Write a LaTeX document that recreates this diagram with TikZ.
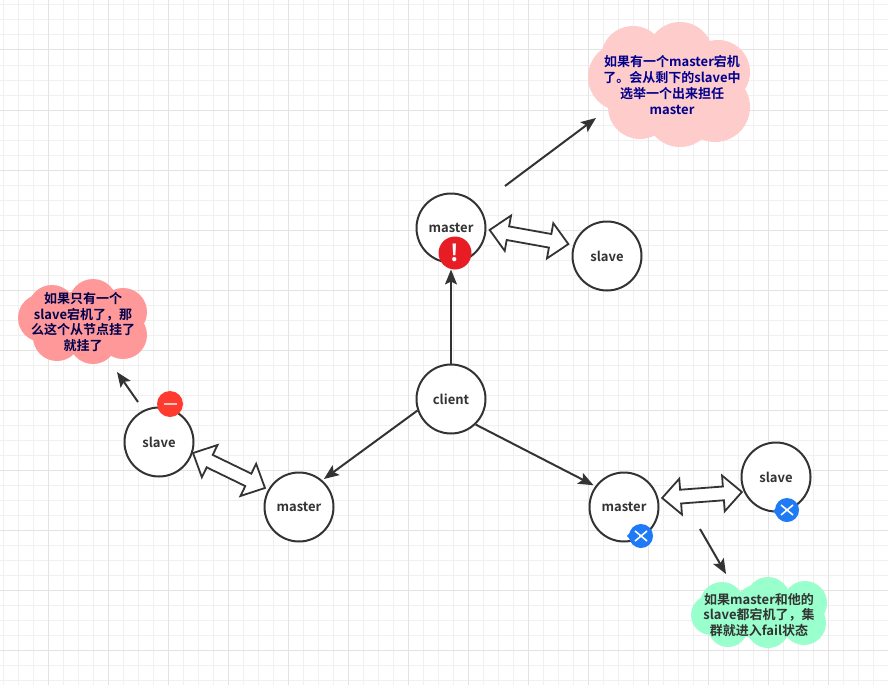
\documentclass[tikz,border=0pt]{standalone}
\usepackage{fontspec}
\setmainfont{Noto Sans CJK SC}[BoldFont={Noto Sans CJK SC Bold}]
\usetikzlibrary{arrows.meta,shapes.arrows}

\definecolor{ink}{HTML}{333333}
\definecolor{gridminor}{HTML}{F0F0F0}
\definecolor{gridmajor}{HTML}{E3E3E3}
\definecolor{pinkcloud}{HTML}{FFCCCC}
\definecolor{redcloud}{HTML}{FF9999}
\definecolor{greencloud}{HTML}{99FFCC}
\definecolor{alertred}{HTML}{E81C25}
\definecolor{minusred}{HTML}{FF3B30}
\definecolor{crossblue}{HTML}{1E7BF5}

\tikzset{
  box/.style={circle, draw=ink, line width=2pt, fill=white, minimum size=69pt, inner sep=0pt,
    font=\fontsize{13}{16}\selectfont\bfseries, text=ink},
  link/.style={draw=ink, line width=2pt, -{Stealth[length=15pt,width=12pt,inset=3pt]}},
  dblarrow/.style={double arrow, draw=ink, line width=1.8pt, fill=white, minimum height=80pt,
    double arrow head extend=11pt, double arrow tip angle=88, inner xsep=0pt, inner ysep=6pt},
  note/.style={align=center, inner sep=0pt, font=\fontsize{13}{15.8}\selectfont\bfseries},
}

\newcommand{\cloudfill}[2]{%
  \foreach \cx/\cy/\cr in {#2}
    \fill[#1] (\cx,\cy) circle[radius=\cr];
}

\begin{document}
\begin{tikzpicture}[x=1pt,y=-1pt]
  \useasboundingbox (0,0) rectangle (888,685);
  \fill[white] (0,0) rectangle (888,685);

  %-------------
  \foreach \gx in {3,18,...,888} \draw[gridminor, line width=1pt] (\gx,0) -- (\gx,685);
  \foreach \gy in {5,20,...,685} \draw[gridminor, line width=1pt] (0,\gy) -- (888,\gy);
  \foreach \gx in {48,108,...,888} \draw[gridmajor, line width=1pt] (\gx,0) -- (\gx,685);
  \foreach \gy in {50,110,...,685} \draw[gridmajor, line width=1pt] (0,\gy) -- (888,\gy);

  %-------------
  \cloudfill{pinkcloud}{633/58/32, 680/55/33, 718/72/32, 622/77/34, 715/107/35, 680/113/34, 640/107/32, 672/85/50}
  \cloudfill{redcloud}{52/309/24, 93/303/24, 123/312/24, 42/318/24, 57/337/24, 93/340/24, 123/335/24, 82/322/32}
  \cloudfill{greencloud}{722/604/22, 768/599/22, 805/603/22, 711/615/20, 728/627/20, 768/626/22, 804/623/22, 760/612/28}

  \node[note, text=blue!55!black] (noteTop) at (672,85)
    {如果有一个master宕机\\了。会从剩下的slave中\\选举一个出来担任\\master};
  \node[note, text=blue!30!black] (noteLeft) at (83,322)
    {如果只有一个\\slave宕机了，那\\么这个从节点挂了\\就挂了};
  \node[note, text=ink] (noteRight) at (759,615)
    {如果master和他的\\slave都宕机了，集\\群就进入fail状态};

  %-------------
  \node[box] (client) at (451,399) {client};
  \node[box] (masterTop) at (451,228) {master};
  \node[box] (slaveTop) at (607,256) {slave};
  \node[box] (slaveLeft) at (159,442) {slave};
  \node[box] (masterLeft) at (299,507) {master};
  \node[box] (masterRight) at (624,507) {master};
  \node[box] (slaveRight) at (776,477) {slave};

  %-------------
  \draw[link, shorten >=6pt] (client) -- (masterTop);
  \draw[link, shorten >=2pt] (client.199) -- (masterLeft.49);
  \draw[link, shorten >=2pt] (client.-46) -- (masterRight.144);

  \coordinate (fromTop) at (505,186);
  \coordinate (toTop) at (596,118);
  \coordinate (fromLeft) at (138,402);
  \coordinate (toLeft) at (117,372);
  \coordinate (fromRight) at (700,529);
  \coordinate (toRight) at (726,574);
  \draw[link] (fromTop) -- (toTop);
  \draw[link] (fromLeft) -- (toLeft);
  \draw[link] (fromRight) -- (toRight);

  %-------------
  \coordinate (dblTopA) at (490,230);
  \coordinate (dblTopB) at (568,244);
  \coordinate (dblLeftA) at (193,453);
  \coordinate (dblLeftB) at (265,488);
  \coordinate (dblRightA) at (662,498);
  \coordinate (dblRightB) at (742,492);
  \path (dblTopA) -- node[dblarrow, sloped] (dblTop) {} (dblTopB);
  \path (dblLeftA) -- node[dblarrow, sloped] (dblLeft) {} (dblLeftB);
  \path (dblRightA) -- node[dblarrow, sloped] (dblRight) {} (dblRightB);

  %-------------
  \node[circle, fill=alertred, minimum size=33pt, inner sep=0pt, text=white,
    font=\fontsize{23}{23}\selectfont\bfseries] (alertMaster) at (455,253) {!};

  \node[circle, fill=minusred, minimum size=26pt, inner sep=0pt] (minusSlave) at (170,404) {};
  \draw[white!70!minusred, line width=1.6pt] (163.5,404) -- (176.5,404);

  \fill[crossblue] (641,536) circle[radius=12];
  \fill[crossblue] (627,536) .. controls (631,532) and (635,525) .. (641,524)
    -- (641,548) .. controls (635,547) and (631,540) .. (627,536);
  \draw[white, line width=1.6pt] (635,541) -- (647,531) (635,531) -- (647,541);

  \fill[crossblue] (787,510) circle[radius=12];
  \fill[crossblue] (773,511) .. controls (778,508) and (781,499) .. (787,498)
    -- (787,522) .. controls (781,522) and (777,515) .. (773,511);
  \draw[white, line width=1.6pt] (781,515) -- (793,505) (781,505) -- (793,515);

\end{tikzpicture}
\end{document}
